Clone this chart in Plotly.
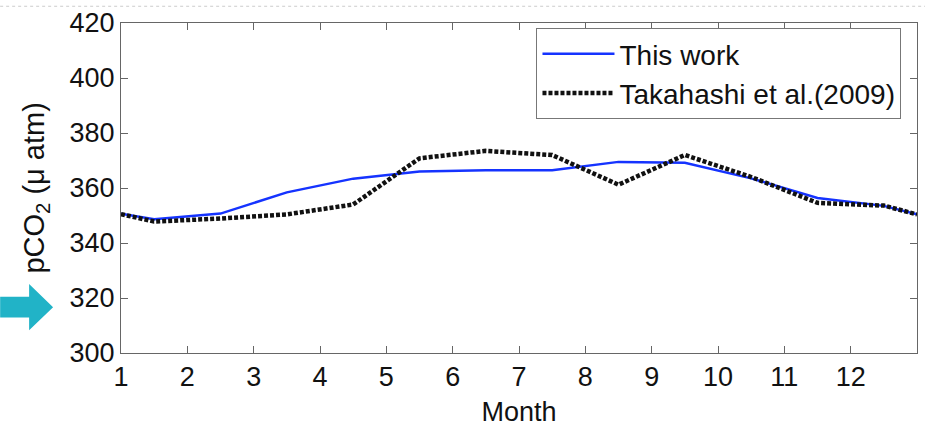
import plotly.graph_objects as go

months = [1, 1.5, 2.5, 3.5, 4.5, 5.5, 6.5, 7.5, 8.5, 9.5, 10.5, 11.5, 12.5, 13]
this_work = [350.6, 348.6, 350.7, 358.4, 363.4, 366.0, 366.5, 366.5, 369.5, 369.2, 363.5, 356.4, 353.5, 350.4]
takahashi = [350.5, 347.8, 348.9, 350.4, 354.0, 370.8, 373.5, 372.0, 361.2, 372.0, 364.0, 354.6, 353.6, 350.4]
x_ticks = list(range(1, 13))
y_ticks = [300, 320, 340, 360, 380, 400, 420]

FONT = "Liberation Sans, Arial, Helvetica, sans-serif"
L, R, T, B = 121, 918, 18, 353
W, H = R - L, B - T


def px(x):
    return (x - L) / W


def py(y):
    return (B - y) / H


fig = go.Figure()
fig.add_trace(go.Scatter(x=months, y=this_work, mode="lines", name="This work",
                         line=dict(color="#1533ff", width=2.5)))
fig.add_trace(go.Scatter(x=months, y=takahashi, mode="lines", name="Takahashi et al.(2009)",
                         line=dict(color="#111111", width=4.5, dash="4px,2px")))

axis_common = dict(showgrid=False, zeroline=False, showline=True, linecolor="#666666",
                   linewidth=1, mirror="ticks", ticks="inside", ticklen=7,
                   tickcolor="#666666", tickfont=dict(family=FONT, size=27, color="#111111"))

fig.update_xaxes(range=[1, 13], tickvals=x_ticks, ticktext=[str(v) for v in x_ticks],
                 title=dict(text="Month", font=dict(family=FONT, size=27, color="#111111"), standoff=10),
                 **axis_common)
fig.update_yaxes(range=[300, 420], tickvals=y_ticks, **axis_common)

# y-axis label
fig.add_annotation(text="pCO<sub>2</sub> (μ atm)", xref="paper", yref="paper",
                   x=px(36), y=py(186), xanchor="center", yanchor="middle",
                   textangle=-90, showarrow=False,
                   font=dict(family=FONT, size=29, color="#111111"))

# arrow pointing at the axis
ay0, ay1 = 296, 317
arrow_pts = [(0, ay0), (29, ay0), (29, 283), (53, 306.5), (29, 330), (29, ay1), (0, ay1)]
path = "M " + " L ".join(f"{px(x):.5f},{py(y):.5f}" for x, y in arrow_pts) + " Z"
fig.add_shape(type="path", path=path, xref="paper", yref="paper",
              fillcolor="#21b3c7", line=dict(width=0))

# faint dotted line at the very top (screenshot edge)
fig.add_shape(type="line", xref="paper", yref="paper", x0=px(0), x1=px(926),
              y0=py(1), y1=py(1), line=dict(color="#cccccc", width=1, dash="dot"))

fig.update_layout(
    width=926, height=430,
    margin=dict(l=L, r=926 - R, t=T, b=430 - B),
    paper_bgcolor="white", plot_bgcolor="white",
    font=dict(family=FONT, color="#111111"),
    showlegend=True,
    legend=dict(x=px(537), y=py(23), xanchor="left", yanchor="top",
                bgcolor="white", bordercolor="#777777", borderwidth=1,
                font=dict(family=FONT, size=28, color="#111111"),
                itemwidth=72, tracegroupgap=0),
)

fig.write_html("out.html")
